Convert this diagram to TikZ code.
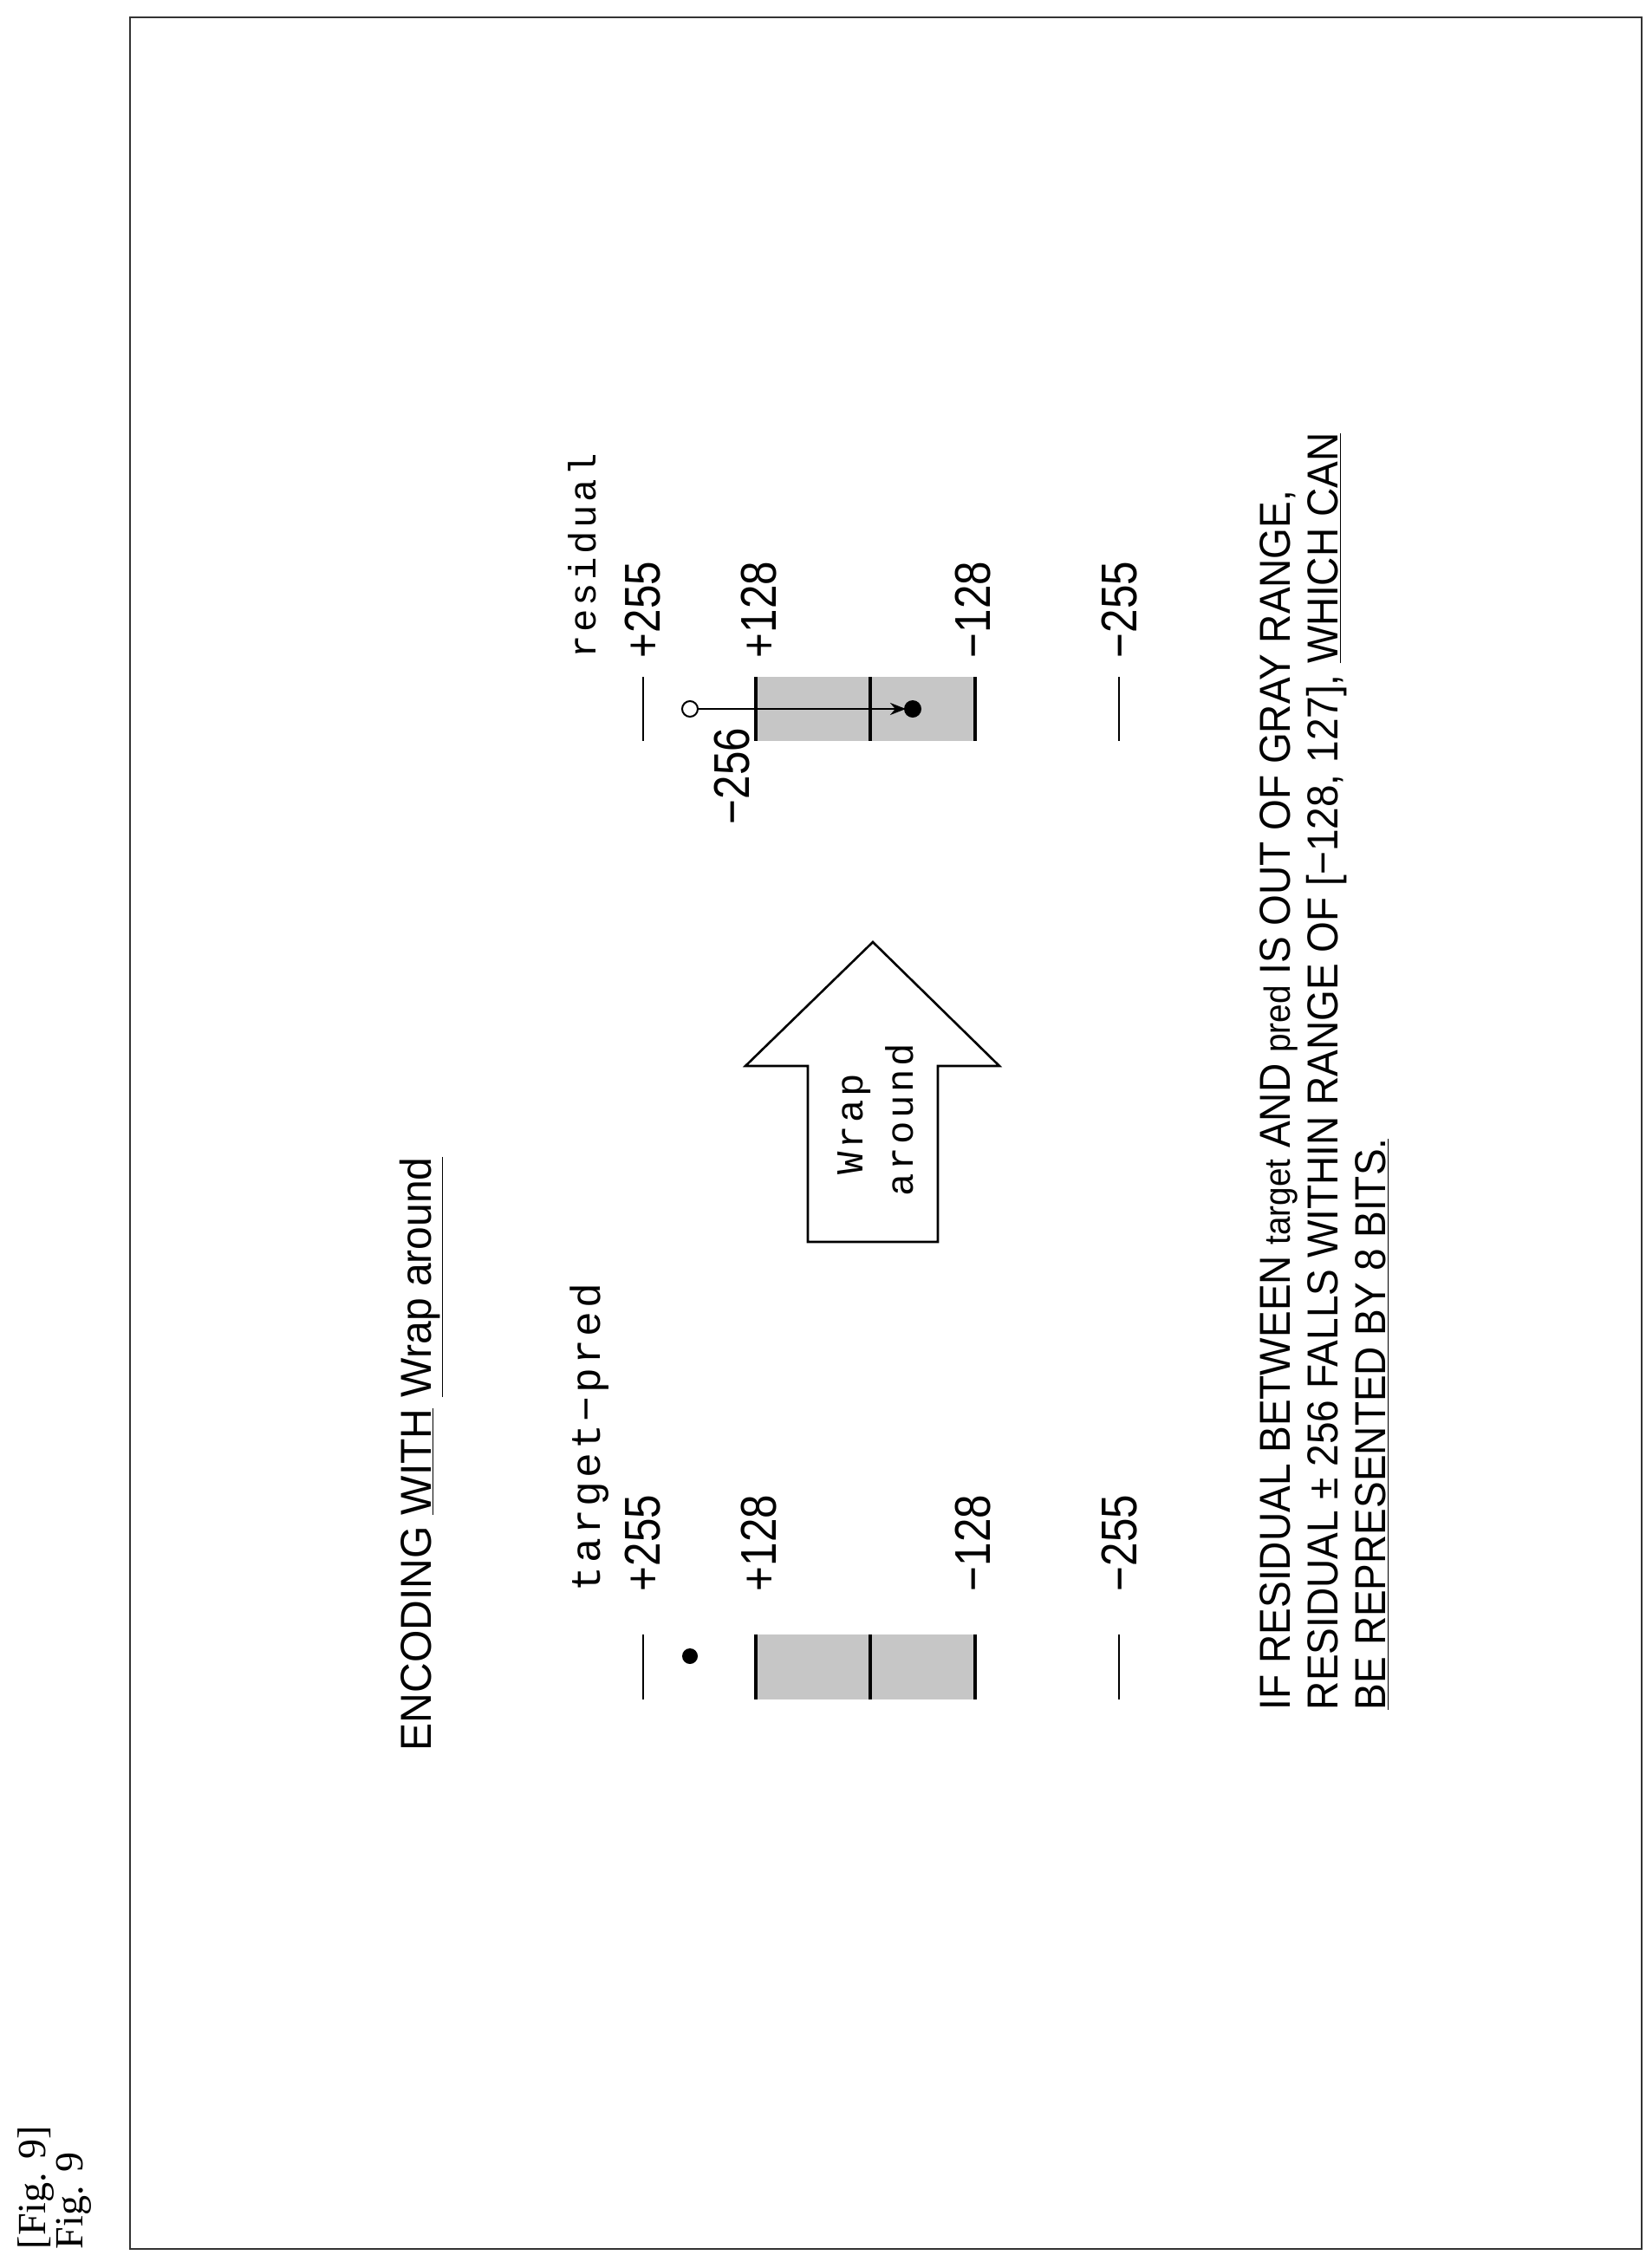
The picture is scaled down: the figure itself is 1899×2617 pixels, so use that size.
\documentclass[tikz,border=0pt]{standalone}
\usetikzlibrary{arrows.meta}
\usepackage{fontspec}
\setmainfont{Liberation Sans}
\newfontfamily\serifx{Liberation Serif}
\newfontfamily\monox[LetterSpace=8]{Liberation Mono}
\begin{document}
\begin{tikzpicture}[x=0.5pt,y=0.5pt,
  rt/.style={rotate=90,anchor=base west,inner sep=0pt,outer sep=0pt},
  num/.style={rt,font=\fontsize{29}{30}\selectfont},
  bar/.style={line width=1.6pt},
  tk/.style={line width=1.2pt}]
\useasboundingbox (0,0) rectangle (1899,-2617);
\draw[line width=1.4pt,black!80] (150,-20) rectangle (1894,-2595);
\node[rt,font=\serifx\fontsize{23}{24}\selectfont] (f1) at (52,-2595) {[Fig. 9]};
\node[rt,font=\serifx\fontsize{23}{24}\selectfont] (f2) at (95,-2595) {Fig. 9};
% title
\node[rt,font=\fontsize{25}{26}\selectfont] (title) at (497,-2020) {\scalebox{0.96}[1]{ENCODING \underline{WITH} \underline{Wrap around}}};
% left group
\node[rt,font=\monox\fontsize{24}{25}\selectfont] (tp) at (692,-1836) {target−pred};
\node[num] (l255) at (761,-1836) {\scalebox{0.85}[1]{+255}};
\node[num] (l128) at (895,-1836) {\scalebox{0.85}[1]{+128}};
\node[num] (lm128) at (1142,-1836) {\scalebox{0.85}[1]{−128}};
\node[num] (lm255) at (1311,-1836) {\scalebox{0.85}[1]{−255}};
\fill[gray!45] (872,-1886) rectangle (1125,-1961);
\draw[bar] (872,-1886) -- (872,-1961) (1004,-1886) -- (1004,-1961) (1125,-1886) -- (1125,-1961);
\draw[tk] (742,-1886) -- (742,-1961) (1291,-1886) -- (1291,-1961);
\fill (796,-1911) circle (9);
% right group
\node[rt,font=\monox\fontsize{22}{23}\selectfont] (res) at (687,-759) {residual};
\node[num] (r255) at (761,-759) {\scalebox{0.85}[1]{+255}};
\node[num] (r128) at (895,-759) {\scalebox{0.85}[1]{+128}};
\node[num] (rm128) at (1142,-759) {\scalebox{0.85}[1]{−128}};
\node[num] (rm255) at (1311,-759) {\scalebox{0.85}[1]{−255}};
\node[num] (r256) at (864,-951) {\scalebox{0.85}[1]{−256}};
\fill[gray!45] (872,-781) rectangle (1125,-855);
\draw[bar] (872,-781) -- (872,-855) (1004,-781) -- (1004,-855) (1125,-781) -- (1125,-855);
\draw[tk] (742,-781) -- (742,-855) (1291,-781) -- (1291,-855);
\coordinate (oc) at (796,-818);
\coordinate (fd) at (1053,-818);
\draw[line width=1pt] (oc) circle (9);
\fill (fd) circle (10);
\draw[line width=1.2pt,-{Stealth[length=9pt,width=7pt]}] ([xshift=4.5pt]oc) -- ([xshift=-4pt]fd);
% big arrow
\draw[line width=1.3pt] (1007,-1087) -- (1153,-1230) -- (1082,-1230) -- (1082,-1433) -- (932,-1433) -- (932,-1230) -- (860,-1230) -- cycle;
\node[rt,font=\monox\fontsize{22}{23}\selectfont] (w1) at (995,-1355) {Wrap};
\node[rt,font=\monox\fontsize{22}{23}\selectfont] (w2) at (1053,-1380) {around};
% bottom text
\node[rt,font=\fontsize{25}{26}\selectfont] (b1) at (1488,-1973) {\scalebox{0.92}[1]{IF RESIDUAL BETWEEN {\fontsize{21}{22}\selectfont target} AND {\fontsize{21}{22}\selectfont pred} IS OUT OF GRAY RANGE,}};
\node[rt,font=\fontsize{25}{26}\selectfont] (b2) at (1543,-1973) {\scalebox{0.92}[1]{RESIDUAL ± 256 FALLS WITHIN RANGE OF [−128, 127], \underline{WHICH CAN}}};
\node[rt,font=\fontsize{25}{26}\selectfont] (b3) at (1598,-1973) {\scalebox{0.92}[1]{\underline{BE REPRESENTED BY 8 BITS.}}};
\end{tikzpicture}
\end{document}
